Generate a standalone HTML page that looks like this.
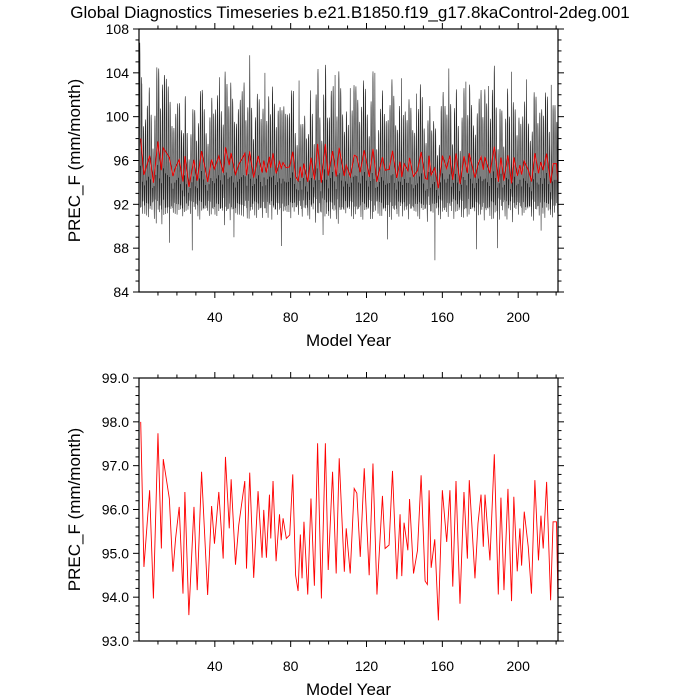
<!DOCTYPE html>
<html><head><meta charset="utf-8"><style>
html,body{margin:0;padding:0;background:#fff;}
svg{display:block;font-family:"Liberation Sans",Arial,sans-serif;}
</style></head><body>
<svg id="chart" width="700" height="700" viewBox="0 0 700 700">
<text x="350" y="18" text-anchor="middle" font-size="17">Global Diagnostics Timeseries b.e21.B1850.f19_g17.8kaControl-2deg.001</text>
</svg>
<script>
// Annual mean PREC_F (year, value)
const annualYears = [0.9,2.6,5.6,7.6,10,11.8,12.8,16,17.9,19.3,21.2,23.2,24.2,26.3,29,30.7,33,36.2,38.3,39.8,42.1,44.4,45.6,47.6,48.6,50.9,52.6,55.8,56.7,58.4,60.5,62.8,64.9,65.8,67.2,68.8,69.5,70.7,72.3,74.1,75,76,77.7,79.5,81.1,82.6,83.9,85.1,86,87,89,90.7,92.5,94.2,96.2,98.3,99.8,102.1,104,105.6,108.3,109.3,111.4,113.5,114.9,116.7,118.8,121.4,123.4,125.5,128.4,129.8,131.9,133.7,136,137.7,138.6,139.8,141.8,142.7,144.8,146.9,148.8,150.9,152.1,153,154.1,156,157.9,160,162.3,164,165.5,167.2,169.3,171.4,173.2,174.2,177.2,178.8,180.4,181.6,182.5,185.1,187.4,189.5,190.9,192.5,194.6,196.5,197.7,199.5,200.9,201.8,203.2,205.3,207,208.8,210.7,212,213.2,215,217.1,218.4,220.2,221];
const annualValues = [98.0,94.69,96.44,93.97,97.74,95.11,97.15,96.25,94.58,95.34,96.06,94.08,96.4,93.59,96.06,94.16,96.86,94.05,96.08,95.22,96.4,94.88,97.2,95.57,96.69,94.74,95.64,96.65,94.65,96.84,94.44,96.42,94.9,95.99,94.9,96.34,95.34,96.65,94.82,95.89,95.3,95.8,95.34,95.42,96.8,94.5,94.14,95.43,94.43,95.72,94.06,96.25,94.26,97.51,93.97,97.51,94.62,96.86,94.54,97.17,94.58,95.57,94.54,96.48,96.37,94.92,96.94,94.5,97.05,94.06,96.31,95.11,95.19,96.88,94.41,95.89,94.48,95.7,95.07,96.24,94.54,95.07,96.78,94.37,94.29,96.44,94.67,95.32,93.47,96.44,95.26,96.44,94.24,96.65,93.85,96.4,94.88,96.67,94.43,95.68,96.34,95.15,96.34,94.84,97.26,94.06,96.27,94.16,96.47,93.91,96.29,94.59,95.57,94.72,95.95,95.15,94.08,96.67,94.84,95.86,95.11,96.63,93.93,95.72,95.72,93.89];
// Mean seasonal cycle of monthly PREC_F (anomaly, mm/month)
const seasonalCycle = [-3.2,-4.2,-2.4,1.4,4.6,5.0,4.4,2.6,-0.6,-2.6,-3.6,-1.4];
// Notable monthly extremes (year, value)
const spikeYears = [1,4,9,13,16,28,33,42,50,58,66,75,84,90,97,103,111,124,131,138,146,156,163,172,178,184,189,196,204,212,217];
const spikeValues = [103,101,104.5,103.8,88.5,87.8,102.2,103.6,89,105.6,104,88.2,103.3,102.4,89.2,103.8,102.6,104,88.8,103.5,102.1,86.9,104.4,103.2,87.9,102.8,88,104.1,103.4,89.6,102.9];

const xTicks=[40,80,120,160,200];
const topYTicks=[84,88,92,96,100,104,108];
const botYTicks=[93,94,95,96,97,98,99];

const NS="http://www.w3.org/2000/svg";
const svgEl=document.getElementById('chart');
function mk(tag,attrs,parent){const e=document.createElementNS(NS,tag);for(const k in attrs)e.setAttribute(k,attrs[k]);(parent||svgEl).appendChild(e);return e;}
const L=139,R=558;
const xs=v=>L+(v-0)/(221-0)*(R-L);
function annualAt(t){
  if(t<=annualYears[0])return annualValues[0];
  for(let i=1;i<annualYears.length;i++){if(t<=annualYears[i]){const f=(t-annualYears[i-1])/(annualYears[i]-annualYears[i-1]);return annualValues[i-1]+f*(annualValues[i]-annualValues[i-1]);}}
  return annualValues[annualValues.length-1];
}
function panel(T,B,ymin,ymax,ticks,minorStep,fmt,name){
  const ys=v=>B-(v-ymin)/(ymax-ymin)*(B-T);
  const g=mk('g',{});
  
  
  for(let v=10;v<=220;v+=10){
    const maj=v%40===0, len=maj?6:3.5;
    mk('line',{x1:xs(v),x2:xs(v),y1:B,y2:B+len,stroke:'#000','stroke-width':1},g);
    mk('line',{x1:xs(v),x2:xs(v),y1:T,y2:T-len,stroke:'#000','stroke-width':1},g);
  }
  xTicks.forEach(v=>{const t=mk('text',{x:xs(v),y:B+30,'text-anchor':'middle','font-size':14},g);t.textContent=v;
    
    });
  const n=Math.round((ymax-ymin)/minorStep);
  for(let i=0;i<=n;i++){const v=ymin+i*minorStep;const maj=ticks.some(t=>Math.abs(t-v)<1e-6);const len=maj?6:3.5;
    mk('line',{x1:L,x2:L-len,y1:ys(v),y2:ys(v),stroke:'#000','stroke-width':1},g);
    mk('line',{x1:R,x2:R+len,y1:ys(v),y2:ys(v),stroke:'#000','stroke-width':1},g);}
  ticks.forEach(v=>{const t=mk('text',{x:L-10,y:ys(v)+5,'text-anchor':'end','font-size':14},g);t.textContent=fmt(v);
    
    });
  const xt=mk('text',{x:(L+R)/2,y:B+54,'text-anchor':'middle','font-size':17},g);xt.textContent='Model Year';
  
  
  const cy=(T+B)/2;
  const yt=mk('text',{x:80,y:cy,'text-anchor':'middle','font-size':17,transform:`rotate(-90 80 ${cy})`},g);yt.textContent='PREC_F (mm/month)';
  
  
  return {g,ys};
}
const topPanel=panel(29,292,84,108,topYTicks,1,v=>String(v),'monthly-panel');
let d='';
const spikeMap={};spikeYears.forEach((y,i)=>spikeMap[y]=spikeValues[i]);
for(let yr=0;yr<221;yr++){
  const base=annualAt(yr+0.5), amp=1+(base-95.5)*0.3;
  for(let m=0;m<12;m++){
    const t=yr+m/12;
    let v=annualAt(t)+seasonalCycle[m]*amp;
    if(spikeMap[yr]!==undefined && ((spikeMap[yr]>96&&m===5)||(spikeMap[yr]<96&&m===1))) v=spikeMap[yr];
    d+=(d?'L':'M')+xs(t).toFixed(2)+','+topPanel.ys(v).toFixed(2);
  }
}
const ml=mk('path',{d:d,fill:'none',stroke:'#000','stroke-width':0.6,'stroke-opacity':0.85},topPanel.g);


let d2='';annualYears.forEach((y,i)=>{d2+=(i?'L':'M')+xs(y).toFixed(2)+','+topPanel.ys(annualValues[i]).toFixed(2);});
const al=mk('path',{d:d2,fill:'none',stroke:'#e00','stroke-width':1},topPanel.g);


mk('rect',{x:L,y:29,width:R-L,height:263,fill:'none',stroke:'#000','stroke-width':1.2},topPanel.g);
const botPanel=panel(378,641,93,99,botYTicks,0.2,v=>v.toFixed(1),'annual-panel');
let d3='';annualYears.forEach((y,i)=>{d3+=(i?'L':'M')+xs(y).toFixed(2)+','+botPanel.ys(annualValues[i]).toFixed(2);});
const bl=mk('path',{d:d3,fill:'none',stroke:'#f00','stroke-width':0.9},botPanel.g);


mk('rect',{x:L,y:378,width:R-L,height:263,fill:'none',stroke:'#000','stroke-width':1.2},botPanel.g);
</script>
</body></html>
